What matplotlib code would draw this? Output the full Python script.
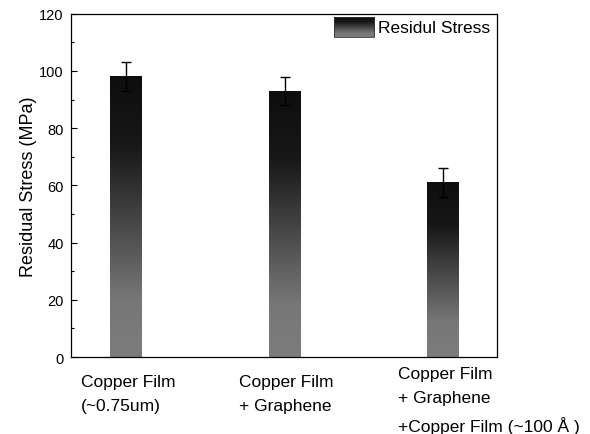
import numpy as np
import matplotlib
matplotlib.use('Agg')
import matplotlib.pyplot as plt
from matplotlib.colors import LinearSegmentedColormap
from matplotlib.patches import Rectangle
from matplotlib.ticker import MultipleLocator

plt.rcParams['font.family'] = ['Liberation Sans', 'DejaVu Sans']

# residual stress of each film stack
samples = ['Copper Film\n(~0.75um)',
           'Copper Film\n+ Graphene',
           'Copper Film\n+ Graphene\n+Copper Film (~100 Å )']
stress = [98, 93, 61]
stress_err = [5, 5, 5]

# dark top -> grey bottom, like the original Origin bars
cmap = LinearSegmentedColormap.from_list(
    'bar_grad', [(0.0, '#0e0e0e'), (0.25, '#181818'), (0.8, '#777777'), (1.0, '#7c7c7c')])
grad = np.linspace(0, 1, 256).reshape(-1, 1)

fig = plt.figure(figsize=(5.9, 4.35), dpi=100)
ax = fig.add_axes([0.12, 0.177, 0.722, 0.789])

xpos = np.arange(len(stress))
width = 0.2
for x, h in zip(xpos, stress):
    ax.imshow(grad, cmap=cmap, aspect='auto', origin='upper',
              extent=[x - width/2, x + width/2, 0, h], zorder=2)
ax.errorbar(xpos, stress, yerr=stress_err, fmt='none', ecolor='black',
            elinewidth=1, capsize=3.5, capthick=1, zorder=4)

ax.set_ylabel('Residual Stress (MPa)', fontsize=13)
ax.yaxis.set_label_coords(-0.08, 0.5)

ax.yaxis.set_major_locator(MultipleLocator(20))
ax.yaxis.set_minor_locator(MultipleLocator(10))
ax.tick_params(axis='y', which='major', direction='in', length=4, width=0.8,
               labelsize=10.5, pad=5)
ax.tick_params(axis='y', which='minor', direction='in', length=2, width=0.8)
ax.set_xticks([])
for s in ax.spines.values():
    s.set_linewidth(0.9)

# category labels, left-aligned under each bar
for x, lab in zip(xpos, samples):
    ax.text(x - 0.285, -0.05 if lab.count('\n') < 2 else -0.027, lab,
            transform=ax.get_xaxis_transform(), ha='left', va='top',
            fontsize=12.5, linespacing=1.72)

# legend entry with gradient swatch
lx0, lx1, ly0, ly1 = 0.617, 0.711, 0.991, 0.933
ax.imshow(grad, cmap=cmap, aspect='auto', origin='upper',
          extent=[lx0, lx1, ly1, ly0], transform=ax.transAxes, zorder=5)
ax.add_patch(Rectangle((lx0, ly1), lx1 - lx0, ly0 - ly1, fill=False,
                       edgecolor='#333333', lw=0.6, transform=ax.transAxes, zorder=6))
ax.text(0.72, 0.961, 'Residul Stress', transform=ax.transAxes,
        ha='left', va='center', fontsize=12.5)

ax.set_xlim(-0.35, 2.34)
ax.set_ylim(0, 120)

fig.savefig('out.png', dpi=100)
